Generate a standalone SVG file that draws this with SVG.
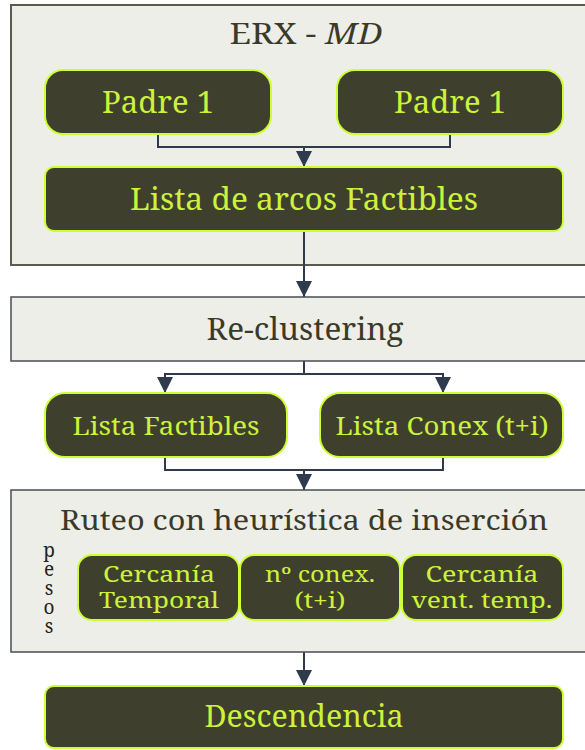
<svg xmlns="http://www.w3.org/2000/svg" width="585" height="750" viewBox="0 0 585 750">
<defs>
<style>
text{font-family:"Noto Serif","Liberation Serif","DejaVu Serif",serif}
.panel{fill:#eeeee9;stroke:#4a4d52;stroke-width:1.5}
.node{fill:#3f3f2e;stroke:#ccff33;stroke-width:2}
.nt{fill:#ccf23a;text-anchor:middle}
.pt{fill:#3a3a2a;text-anchor:middle}
.con{fill:none;stroke:#2f3a4d;stroke-width:2}
</style>
<marker id="ah2" viewBox="0 0 16 16" refX="16" refY="8" markerWidth="18" markerHeight="16" markerUnits="userSpaceOnUse" orient="auto">
<path d="M0,0 L16,8 L0,16 z" fill="#2f3a4d"/>
</marker>
</defs>
<rect width="585" height="750" fill="#ffffff"/>

<g id="erx">
<rect class="panel" x="11" y="5" width="590" height="260" style="stroke:#5a5a4e;stroke-width:2"/>
<text class="pt" x="306" y="44" font-size="29" textLength="153" lengthAdjust="spacingAndGlyphs">ERX - <tspan font-style="italic">MD</tspan></text>
</g>

<g id="connectors">
<path class="con" d="M158,134 V147 H450 V134"/>
<path class="con" d="M304,147 V167" marker-end="url(#ah2)"/>
<path class="con" d="M304,231 V297" marker-end="url(#ah2)"/>
<path class="con" d="M304,361 V374 H165 V393" marker-end="url(#ah2)"/>
<path class="con" d="M304,374 H443 V393" marker-end="url(#ah2)"/>
<path class="con" d="M165,457 V470 H443 V457"/>
<path class="con" d="M304,470 V490" marker-end="url(#ah2)"/>
<path class="con" d="M304,652 V686" marker-end="url(#ah2)"/>
</g>

<g id="padre1a">
<rect class="node" x="45" y="70" width="226" height="64" rx="18"/>
<text class="nt" x="158" y="113" font-size="30" textLength="112" lengthAdjust="spacingAndGlyphs">Padre 1</text>
</g>
<g id="padre1b">
<rect class="node" x="337" y="70" width="226" height="64" rx="18"/>
<text class="nt" x="450" y="113" font-size="30" textLength="112" lengthAdjust="spacingAndGlyphs">Padre 1</text>
</g>
<g id="lista-arcos">
<rect class="node" x="45" y="167" width="518" height="64" rx="9"/>
<text class="nt" x="304" y="210" font-size="30" textLength="348" lengthAdjust="spacingAndGlyphs">Lista de arcos Factibles</text>
</g>

<g id="reclustering">
<rect class="panel" x="11" y="297" width="590" height="64"/>
<text class="pt" x="305" y="340" font-size="30" textLength="197" lengthAdjust="spacingAndGlyphs">Re-clustering</text>
</g>

<g id="lista-factibles">
<rect class="node" x="45" y="393" width="242" height="64" rx="20"/>
<text class="nt" x="166" y="435" font-size="26" textLength="187" lengthAdjust="spacingAndGlyphs">Lista Factibles</text>
</g>
<g id="lista-conex">
<rect class="node" x="320" y="393" width="243" height="64" rx="20"/>
<text class="nt" x="442" y="435" font-size="26" textLength="213" lengthAdjust="spacingAndGlyphs">Lista Conex (t+i)</text>
</g>

<g id="ruteo">
<rect class="panel" x="11" y="490" width="590" height="162"/>
<text class="pt" x="304" y="530" font-size="27" textLength="488" lengthAdjust="spacingAndGlyphs">Ruteo con heurística de inserción</text>
<text x="49" y="537" font-size="19" fill="#222" style="writing-mode:vertical-rl;text-orientation:upright;letter-spacing:-7px">pesos</text>
</g>
<g id="cercania-temporal">
<rect class="node" x="78" y="555" width="161" height="65" rx="14"/>
<text class="nt" font-size="21"><tspan x="159" y="582" textLength="112" lengthAdjust="spacingAndGlyphs">Cercanía</tspan><tspan x="159" y="608" textLength="120" lengthAdjust="spacingAndGlyphs">Temporal</tspan></text>
</g>
<g id="nconex">
<rect class="node" x="240" y="555" width="160" height="65" rx="14"/>
<text class="nt" font-size="21"><tspan x="320" y="582" textLength="110" lengthAdjust="spacingAndGlyphs">nº conex.</tspan><tspan x="320" y="608" textLength="51" lengthAdjust="spacingAndGlyphs">(t+i)</tspan></text>
</g>
<g id="cercania-vent">
<rect class="node" x="402" y="555" width="161" height="65" rx="14"/>
<text class="nt" font-size="21"><tspan x="482" y="582" textLength="113" lengthAdjust="spacingAndGlyphs">Cercanía</tspan><tspan x="482" y="608" textLength="141" lengthAdjust="spacingAndGlyphs">vent. temp.</tspan></text>
</g>

<g id="descendencia">
<rect class="node" x="45" y="686" width="518" height="62" rx="9"/>
<text class="nt" x="304" y="727" font-size="31" textLength="199" lengthAdjust="spacingAndGlyphs">Descendencia</text>
</g>
</svg>
